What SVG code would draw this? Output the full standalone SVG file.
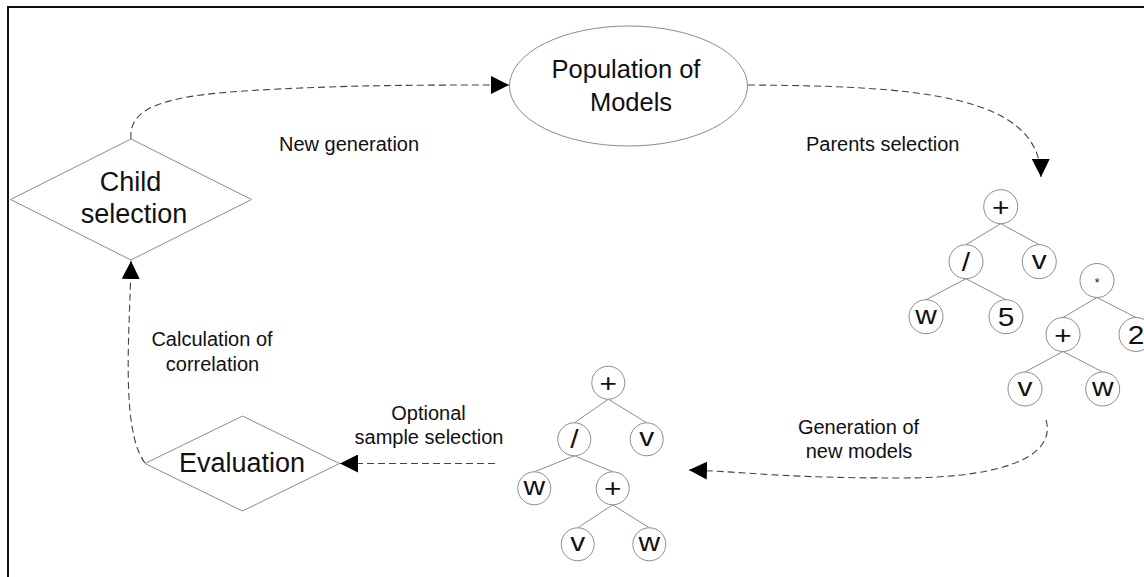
<svg xmlns="http://www.w3.org/2000/svg" width="1144" height="577" viewBox="0 0 1144 577">
<style>
.shape{fill:#fff;stroke:#8c8c8c;stroke-width:1}
.big{font-family:"Liberation Sans",Arial,sans-serif;font-size:27px;fill:#111;text-anchor:middle}
.lbl{font-family:"Liberation Sans",Arial,sans-serif;font-size:20px;fill:#111}
.mid{text-anchor:middle}
.conn{fill:none;stroke:#444;stroke-width:1.1;stroke-dasharray:7 4}
.edge{stroke:#8c8c8c;stroke-width:1}
.node{fill:#fff;stroke:#8c8c8c;stroke-width:1}
.tl{font-family:"Liberation Sans",Arial,sans-serif;font-size:26px;fill:#111;text-anchor:middle}
</style>
<defs>
<marker id="ah" markerUnits="userSpaceOnUse" viewBox="0 0 18 18" markerWidth="18" markerHeight="18" refX="18" refY="9" orient="auto">
<path d="M0,0 L18,9 L0,18 Z" fill="#000"/>
</marker>
</defs>
<rect width="1144" height="577" fill="#fff"/>
<rect x="8" y="7" width="1200" height="620" fill="none" stroke="#111" stroke-width="2"/>

<g id="connectors">
<path class="conn" d="M131,139 C128,105 170,95 260,90 S420,85 509,85" marker-end="url(#ah)"/>
<path class="conn" d="M748,85 C920,86 1040,95 1041,177" marker-end="url(#ah)"/>
<path class="conn" d="M1046,420 C1055,450 1020,478 900,478 S750,472 689,470" marker-end="url(#ah)"/>
<path class="conn" d="M495,463.5 L340,463.5" marker-end="url(#ah)"/>
<path class="conn" d="M145,463 C120,430 130,330 131,261" marker-end="url(#ah)"/>
</g>

<g id="labels">
<text class="lbl" x="279" y="150.5">New generation</text>
<text class="lbl" x="806" y="150.5">Parents selection</text>
<text class="lbl mid" x="212" y="345.5">Calculation of</text>
<text class="lbl mid" x="212.5" y="370.5">correlation</text>
<text class="lbl mid" x="428.5" y="420">Optional</text>
<text class="lbl mid" x="429" y="444">sample selection</text>
<text class="lbl mid" x="858.5" y="434">Generation of</text>
<text class="lbl mid" x="859" y="458">new models</text>
</g>

<g id="population">
<ellipse class="shape" cx="628.5" cy="86" rx="119" ry="60"/>
<text class="big" x="626" y="78" style="font-size:25.5px">Population of</text>
<text class="big" x="631" y="110.5" style="font-size:25.5px">Models</text>
</g>

<g id="child-selection">
<path class="shape" d="M131,139 L251.5,199.5 L131,260 L10.5,199.5 Z"/>
<text class="big" x="130.5" y="191">Child</text>
<text class="big" x="134" y="223.3">selection</text>
</g>

<g id="evaluation">
<path class="shape" d="M242.5,416 L339.5,463.5 L242.5,511 L145,463.5 Z"/>
<text class="big" x="242" y="472">Evaluation</text>
</g>

<g id="parent-tree-1">
<line class="edge" x1="1000.7" y1="223.7" x2="966" y2="244.7"/>
<line class="edge" x1="1000.7" y1="223.7" x2="1039.3" y2="244.7"/>
<line class="edge" x1="966" y1="278.7" x2="926" y2="299.7"/>
<line class="edge" x1="966" y1="278.7" x2="1006" y2="299.7"/>
<circle class="node" cx="1000.7" cy="206.7" r="17"/>
<circle class="node" cx="966" cy="261.7" r="17"/>
<circle class="node" cx="1039.3" cy="261.7" r="17"/>
<circle class="node" cx="926" cy="316.7" r="17"/>
<circle class="node" cx="1006" cy="316.7" r="17"/>
<text class="tl" transform="translate(1000.7,206.7) scale(1.15,1)" y="9">+</text>
<text class="tl" transform="translate(966,261.7) scale(1.15,1)" y="9">/</text>
<text class="tl" transform="translate(1039.3,261.7) scale(1.15,1)" y="7">v</text>
<text class="tl" transform="translate(926,316.7) scale(1.15,1)" y="7">w</text>
<text class="tl" transform="translate(1006,316.7) scale(1.15,1)" y="9">5</text>
</g>

<g id="parent-tree-2">
<line class="edge" x1="1097" y1="297.5" x2="1063" y2="317.5"/>
<line class="edge" x1="1097" y1="297.5" x2="1136" y2="317.5"/>
<line class="edge" x1="1063" y1="351.5" x2="1025" y2="372"/>
<line class="edge" x1="1063" y1="351.5" x2="1102.7" y2="372"/>
<circle class="node" cx="1097" cy="280.5" r="17"/>
<circle class="node" cx="1063" cy="334.5" r="17"/>
<circle class="node" cx="1136" cy="334.5" r="17"/>
<circle class="node" cx="1025" cy="389" r="17"/>
<circle class="node" cx="1102.7" cy="389" r="17"/>
<text class="tl" x="1097" y="287" style="font-size:12px">*</text>
<text class="tl" transform="translate(1063,334.5) scale(1.15,1)" y="9">+</text>
<text class="tl" transform="translate(1136,334.5) scale(1.15,1)" y="9">2</text>
<text class="tl" transform="translate(1025,389) scale(1.15,1)" y="7">v</text>
<text class="tl" transform="translate(1102.7,389) scale(1.15,1)" y="7">w</text>
</g>

<g id="child-tree">
<line class="edge" x1="608.3" y1="399.2" x2="574.3" y2="422.8"/>
<line class="edge" x1="608.3" y1="399.2" x2="646.7" y2="422.8"/>
<line class="edge" x1="574.3" y1="455.8" x2="534.3" y2="471.8"/>
<line class="edge" x1="574.3" y1="455.8" x2="612.7" y2="471.8"/>
<line class="edge" x1="612.7" y1="504.8" x2="577.7" y2="527.8"/>
<line class="edge" x1="612.7" y1="504.8" x2="649.3" y2="527.8"/>
<circle class="node" cx="608.3" cy="382.7" r="16.5"/>
<circle class="node" cx="574.3" cy="439.3" r="16.5"/>
<circle class="node" cx="646.7" cy="439.3" r="16.5"/>
<circle class="node" cx="534.3" cy="488.3" r="16.5"/>
<circle class="node" cx="612.7" cy="488.3" r="16.5"/>
<circle class="node" cx="577.7" cy="544.3" r="16.5"/>
<circle class="node" cx="649.3" cy="544.3" r="16.5"/>
<text class="tl" transform="translate(608.3,382.7) scale(1.15,1)" y="9">+</text>
<text class="tl" transform="translate(574.3,439.3) scale(1.15,1)" y="9">/</text>
<text class="tl" transform="translate(646.7,439.3) scale(1.15,1)" y="7">v</text>
<text class="tl" transform="translate(534.3,488.3) scale(1.15,1)" y="7">w</text>
<text class="tl" transform="translate(612.7,488.3) scale(1.15,1)" y="9">+</text>
<text class="tl" transform="translate(577.7,544.3) scale(1.15,1)" y="7">v</text>
<text class="tl" transform="translate(649.3,544.3) scale(1.15,1)" y="7">w</text>
</g>
</svg>
